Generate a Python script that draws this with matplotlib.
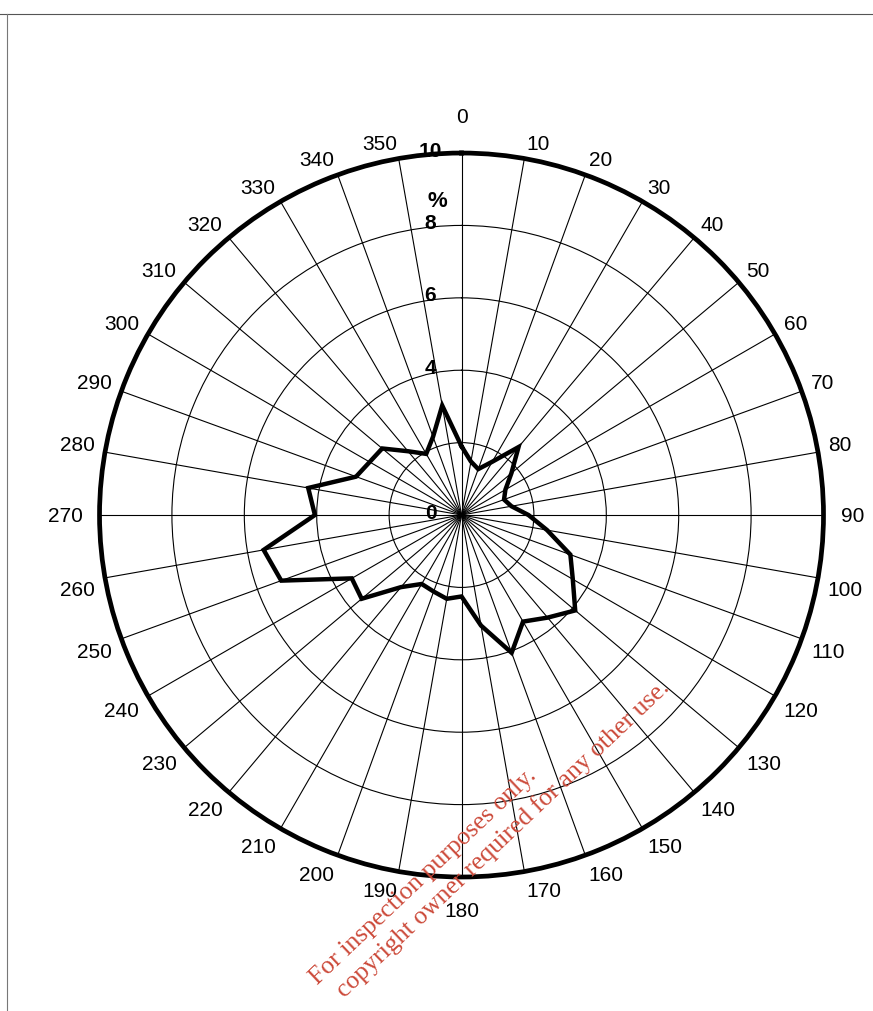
import numpy as np
import matplotlib
matplotlib.use("Agg")
import matplotlib.pyplot as plt
from matplotlib.lines import Line2D

# ---- data ----
directions = [0, 10, 20, 30, 40, 50, 60, 70, 80, 90, 100, 110, 120, 130, 140, 150, 160, 170,
              180, 190, 200, 210, 220, 230, 240, 250, 260, 270, 280, 290, 300, 310, 320, 330, 340, 350]
percent = [1.9, 1.5, 1.35, 1.7, 2.45, 1.8, 1.4, 1.25, 1.4, 1.85, 2.4, 3.2, 3.55, 4.1, 3.7, 3.4, 4.05, 3.1,
           2.25, 2.35, 2.25, 2.2, 2.6, 3.6, 3.5, 5.3, 5.55, 4.05, 4.3, 3.1, 2.93, 2.86, 2.3, 1.95, 2.3, 3.07]
angle_labels = [str(a) for a in directions]
ring_values = [2, 4, 6, 8]
radial_labels = ["0", "4", "6", "8", "10"]
radial_label_pos = [0, 4, 6, 8, 10]

plt.rcParams['font.family'] = ['Liberation Sans', 'DejaVu Sans']

W, H = 873, 1012
R_PX = 362.0  # outer radius in pixels
fig = plt.figure(figsize=(W / 100, H / 100), dpi=100)
fig.patch.set_facecolor('white')
ax = fig.add_axes([0.114, 0.1324, 0.8293, 0.7154], projection='polar')
ax.set_theta_zero_location('N')
ax.set_theta_direction(-1)
ax.set_ylim(0, 10)

theta = np.deg2rad(directions)
ax.set_xticks(theta)
ax.set_xticklabels([])
ax.set_yticks(ring_values)
ax.set_yticklabels([])
ax.grid(True, color='black', linewidth=0.8)
ax.spines['polar'].set_linewidth(3.4)
ax.spines['polar'].set_color('black')
ax.tick_params(length=0)

# polygon
th_closed = np.append(theta, theta[0])
r_closed = np.append(percent, percent[0])
ax.plot(th_closed, r_closed, color='black', linewidth=3.2, solid_joinstyle='miter', zorder=5)

# angle labels: nearest corner of the label box sits just outside the circle
cardinal_gap = {0: 31, 90: 17, 180: 24, 270: 17}
for d, a, lab in zip(directions, theta, angle_labels):
    gap = cardinal_gap.get(d, 10)
    s, c = np.sin(a), np.cos(a)
    ha = 'left' if s > 1e-6 else ('right' if s < -1e-6 else 'center')
    va = 'baseline' if c > 1e-6 else ('top' if c < -1e-6 else 'center')
    ax.text(a, 10 + gap * 10 / R_PX, lab, ha=ha, va=va, fontsize=15, clip_on=False)

# radial labels
for v, lab in zip(radial_label_pos, radial_labels):
    ax.annotate(lab, xy=(0, v), xytext=(-31, 3), textcoords='offset pixels',
                ha='center', va='center', fontsize=15, fontweight='bold',
                annotation_clip=False, zorder=6)
ax.annotate('%', xy=(0, 8.7), xytext=(-24, 0), textcoords='offset pixels',
            ha='center', va='center', fontsize=16, fontweight='bold',
            annotation_clip=False, zorder=6)

# page border lines
fig.add_artist(Line2D([0.0, 1.0], [1 - 15 / H, 1 - 15 / H], color='#555555', linewidth=0.8))
fig.add_artist(Line2D([7 / W, 7 / W], [0.0, 1 - 15 / H], color='#777777', linewidth=0.8))

# watermark
fig.text(318 / W, 1 - 985 / H, "For inspection purposes only.", rotation=43.5,
         rotation_mode='anchor', ha='left', va='baseline',
         fontsize=18.5, color='#cc4a3a', family='Liberation Serif')
fig.text(671 / W, 1 - 689 / H, "copyright owner required for any other use.", rotation=43.5,
         rotation_mode='anchor', ha='right', va='baseline',
         fontsize=18.5, color='#cc4a3a', family='Liberation Serif')

fig.savefig('out.png', dpi=100, facecolor='white')
